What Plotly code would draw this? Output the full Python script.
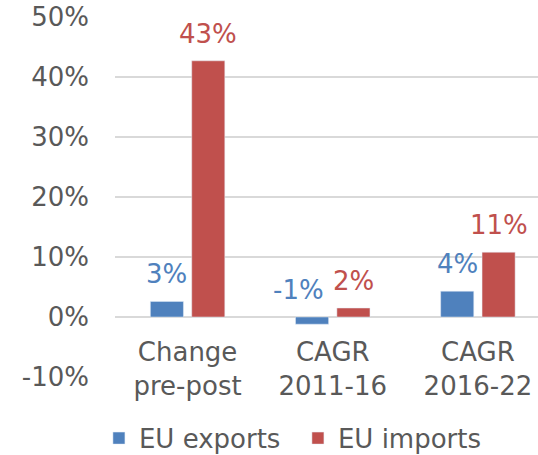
import plotly.graph_objects as go

categories = ["Change<br>pre-post", "CAGR<br>2011-16", "CAGR<br>2016-22"]
exports = [2.6, -1.2, 4.3]
imports = [42.7, 1.5, 10.8]
export_labels = ["3%", "-1%", "4%"]
import_labels = ["43%", "2%", "11%"]
y_ticks = [-10, 0, 10, 20, 30, 40, 50]
y_tick_labels = ["-10%", "0%", "10%", "20%", "30%", "40%", "50%"]

BLUE = "#4F81BD"
RED = "#C0504D"
FONT = "Verdana, DejaVu Sans, sans-serif"
FS = 26

fig = go.Figure()
fig.add_bar(x=categories, y=exports, name="EU exports", marker_color=BLUE)
fig.add_bar(x=categories, y=imports, name="EU imports", marker_color=RED)

slot_px = 41.5
for i, c in enumerate(categories):
    for val, lab, col, side in [(exports[i], export_labels[i], BLUE, -1), (imports[i], import_labels[i], RED, 1)]:
        extra = -13 if val < 0 else 0
        fig.add_annotation(x=c, y=max(val, 0), text=lab, showarrow=False,
                           xref="x", yref="y", yanchor="bottom",
                           xshift=side * slot_px / 2 + extra, yshift=10,
                           font=dict(family=FONT, size=FS, color=col))

fig.update_layout(
    width=538, height=455,
    margin=dict(l=115, r=0, t=17, b=78, autoexpand=False),
    plot_bgcolor="white", paper_bgcolor="white",
    barmode="group", bargap=0.43, bargroupgap=0.2,
    font=dict(family=FONT, size=FS, color="#595959"),
    showlegend=True,
    legend=dict(orientation="h", x=-0.038, xanchor="left", y=-0.17, yanchor="middle",
                font=dict(size=FS, color="#595959"), itemwidth=30,
                entrywidth=154, entrywidthmode="pixels"),
    xaxis=dict(range=[-0.5, 2.414], anchor="free", position=1/6, automargin=False,
               showgrid=False, showline=False, ticks="", tickfont=dict(size=FS),
               ticklabelstandoff=17),
    yaxis=dict(range=[-10, 50], tickvals=y_ticks, ticktext=y_tick_labels, automargin=False,
               showgrid=True, gridcolor="#D9D9D9", gridwidth=1.5,
               zeroline=False, showline=False, ticks="",
               ticklabelstandoff=25, tickfont=dict(size=FS)),
)

fig.write_html("out.html", config={"displayModeBar": False},
               post_script="document.body.style.margin='0';document.body.style.overflow='hidden';")
